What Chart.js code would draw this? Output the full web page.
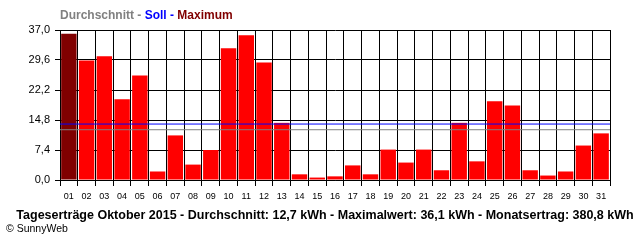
<!DOCTYPE html>
<html>
<head>
<meta charset="utf-8">
<script src="https://cdn.jsdelivr.net/npm/chart.js@4"></script>
<style>
html,body{margin:0;padding:0;background:#fff;}
</style>
</head>
<body>
<canvas id="myChart" width="640" height="240"></canvas>
<script>
// Tageserträge Oktober 2015 (kWh)
let tage = ["01","02","03","04","05","06","07","08","09","10","11","12","13","14","15","16",
            "17","18","19","20","21","22","23","24","25","26","27","28","29","30","31"];
let ertrag = [36.1,29.5,30.5,19.9,25.8,2.1,11.0,3.8,7.4,32.5,35.7,29.0,14.1,1.4,0.6,0.9,
              3.6,1.4,7.5,4.3,7.5,2.4,14.1,4.6,19.4,18.4,2.4,1.1,2.1,8.5,11.5];
let durchschnitt = 12.4;
let soll = 13.8;
let yTicks = [0,7.4,14.8,22.2,29.6,37.0];

let kopfzeile = [["Durchschnitt - ","#808080"],["Soll - ","#0000ff"],["Maximum","#800000"]];
let fusszeile = "Tageserträge Oktober 2015 - Durchschnitt: 12,7 kWh - Maximalwert: 36,1 kWh - Monatsertrag: 380,8 kWh";
let copyright = "© SunnyWeb";

let maxIdx = ertrag.indexOf(Math.max(...ertrag));
let barColors = ertrag.map((v,i)=> i==maxIdx ? "#800000" : "#ff0000");

// texte oben und unten
let textPlugin = {
    id: "texte",
    afterDraw(chart){
        let ctx = chart.ctx;
        ctx.save();
        ctx.textBaseline = "middle";
        ctx.font = "bold 12px 'Liberation Sans', Arial, sans-serif";
        let x = 60;
        for(let teil of kopfzeile){
            ctx.fillStyle = teil[1];
            ctx.fillText(teil[0], x, 16);
            x += ctx.measureText(teil[0]).width;
        }
        ctx.fillStyle = "#000";
        ctx.textAlign = "center";
        ctx.font = "bold 12.5px 'Liberation Sans', Arial, sans-serif";
        ctx.fillText(fusszeile, 325, 216);
        ctx.textAlign = "left";
        ctx.font = "10.5px 'Liberation Sans', Arial, sans-serif";
        ctx.fillText(copyright, 6, 229);
        ctx.restore();
    }
};

Chart.defaults.color = "#000";
Chart.defaults.font.family = "'Liberation Sans', Arial, sans-serif";
Chart.defaults.font.size = 11;

new Chart("myChart", {
    type: "bar",
    data: {
        labels: tage,
        datasets: [
            {
                type: "line",
                xAxisID: "x2",
                data: [{x:0,y:soll},{x:1,y:soll}],
                borderColor: "#0000ff",
                borderWidth: 1,
                pointRadius: 0,
                order: 1
            },
            {
                type: "line",
                xAxisID: "x2",
                data: [{x:0,y:durchschnitt},{x:1,y:durchschnitt}],
                borderColor: "#808080",
                borderWidth: 1,
                pointRadius: 0,
                order: 1
            },
            {
                data: ertrag,
                backgroundColor: barColors,
                barPercentage: 0.87,
                categoryPercentage: 1,
                grouped: false,
                order: 2
            }
        ]
    },
    options: {
        responsive: false,
        animation: false,
        layout: {padding: {left: 0, top: 30, right: 30, bottom: 0}},
        plugins: {
            legend: {display: false},
            tooltip: {enabled: false}
        },
        scales: {
            x: {
                grid: {color: "#000", lineWidth: 1, offset: true, drawTicks: true, tickLength: 6},
                border: {color: "#000"},
                ticks: {padding: 5, maxRotation: 0, autoSkip: false, font: {size: 9}},
                afterFit(scale){ scale.height = 60; }
            },
            x2: {
                type: "linear",
                display: false,
                offset: false,
                min: 0,
                max: 1
            },
            y: {
                min: 0,
                max: 37,
                grid: {color: "#000", lineWidth: 1, tickLength: 5},
                border: {color: "#000"},
                ticks: {
                    padding: 5,
                    callback: (v)=> v.toFixed(1).replace(".", ",")
                },
                afterBuildTicks(scale){ scale.ticks = yTicks.map(v=>({value: v})); },
                afterFit(scale){ scale.width = 60; }
            }
        }
    },
    plugins: [textPlugin]
});
</script>
</body>
</html>
